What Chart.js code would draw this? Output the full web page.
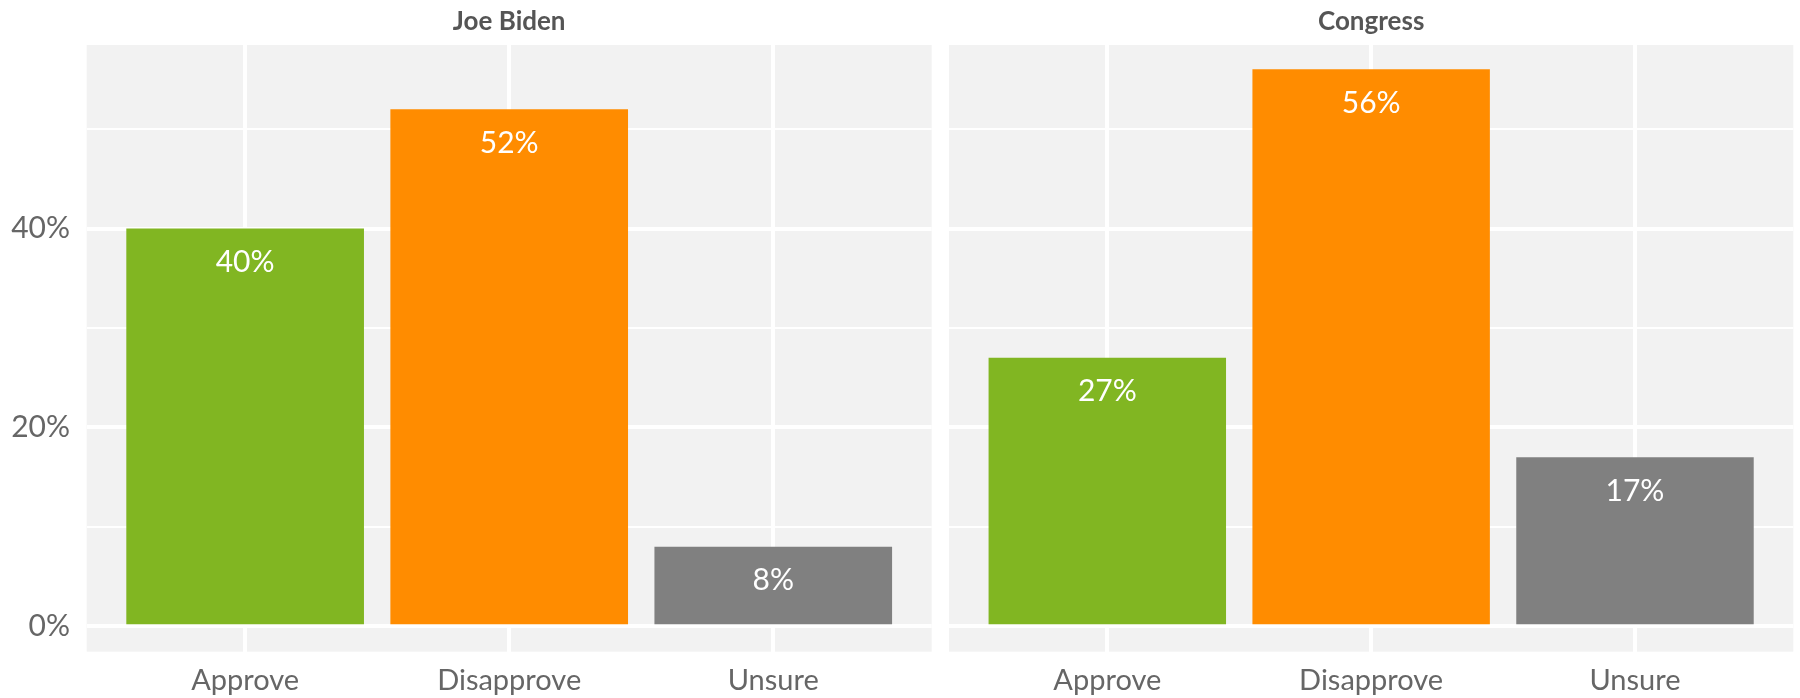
<!DOCTYPE html>
<html>
<head>
<meta charset="utf-8">
<script src="https://cdn.jsdelivr.net/npm/chart.js@4.4.1/dist/chart.umd.min.js"></script>
<style>
  html, body { margin: 0; padding: 0; background: #ffffff; width: 1800px; height: 698px; overflow: hidden; }
  canvas { position: absolute; top: 0; }
  #c1 { left: 0; }
  #c2 { left: 949px; }
</style>
</head>
<body>
<canvas id="c1" width="935" height="698"></canvas>
<canvas id="c2" width="851" height="698"></canvas>
<script>
// ---- data ----
const categories = ['Approve', 'Disapprove', 'Unsure'];
const bidenValues = [40, 52, 8];
const congressValues = [27, 56, 17];
const panelTitles = ['Joe Biden', 'Congress'];
const barColors = ['#81B622', '#FF8C00', '#808080'];

const FONT = 'Lato, "Open Sans", sans-serif';

const panelBg = {
  id: 'panelBg',
  beforeDraw(chart) {
    const a = chart.chartArea, c = chart.ctx;
    c.save();
    c.fillStyle = '#F2F2F2';
    c.fillRect(a.left, a.top, a.right - a.left, a.bottom - a.top);
    c.restore();
  }
};

const valueLabels = {
  id: 'valueLabels',
  afterDatasetsDraw(chart) {
    const c = chart.ctx;
    const meta = chart.getDatasetMeta(0);
    const data = chart.data.datasets[0].data;
    c.save();
    c.fillStyle = '#ffffff';
    c.font = '30px ' + FONT;
    c.textAlign = 'center';
    c.textBaseline = 'middle';
    meta.data.forEach((bar, i) => {
      c.fillText(data[i].y + '%', bar.x, bar.y + 34);
    });
    c.restore();
  }
};

function makeChart(id, title, values, showY, padLeft, padRight) {
  return new Chart(document.getElementById(id), {
    type: 'bar',
    data: {
      datasets: [{
        data: values.map((v, i) => ({ x: i, y: v })),
        backgroundColor: barColors,
        borderWidth: 0,
        barPercentage: 0.9,
        categoryPercentage: 1.0
      }]
    },
    options: {
      responsive: false,
      devicePixelRatio: 1,
      animation: false,
      layout: { padding: { left: padLeft, right: padRight, top: 0, bottom: 0 } },
      plugins: {
        legend: { display: false },
        tooltip: { enabled: false },
        title: {
          display: true,
          text: title,
          fullSize: false,
          color: '#555555',
          font: { family: FONT, size: 26, weight: 'bold', lineHeight: 1.2 },
          padding: { top: 6.5, bottom: 7.3 }
        }
      },
      scales: {
        x: {
          type: 'linear',
          min: -0.6,
          max: 2.6,
          offset: false,
          border: { display: false },
          grid: { color: '#ffffff', lineWidth: 4, drawTicks: false, offset: false },
          ticks: {
            stepSize: 1,
            includeBounds: false,
            autoSkip: false,
            maxRotation: 0,
            padding: 12,
            color: '#666666',
            font: { family: FONT, size: 29 },
            callback: (v) => categories[v] !== undefined ? categories[v] : ''
          },
          afterFit: (s) => { s.height = 698 - 651.7; }
        },
        y: {
          min: -2.55,
          max: 58.45,
          border: { display: false },
          grid: {
            color: '#ffffff',
            drawTicks: false,
            lineWidth: (ctx) => (ctx.tick && ctx.tick.value % 20 === 0) ? 4 : 2
          },
          ticks: {
            display: showY,
            stepSize: 10,
            includeBounds: false,
            padding: 16.7,
            color: '#666666',
            font: { family: FONT, size: 30 },
            callback: (v) => (v % 20 === 0 ? v + '%' : '')
          },
          afterFit: (s) => { s.width = showY ? 86.7 : 0; }
        }
      }
    },
    plugins: [panelBg, valueLabels]
  });
}

makeChart('c1', panelTitles[0], bidenValues, true, 0, 3.3);
makeChart('c2', panelTitles[1], congressValues, false, 0, 6.7);
</script>
</body>
</html>
